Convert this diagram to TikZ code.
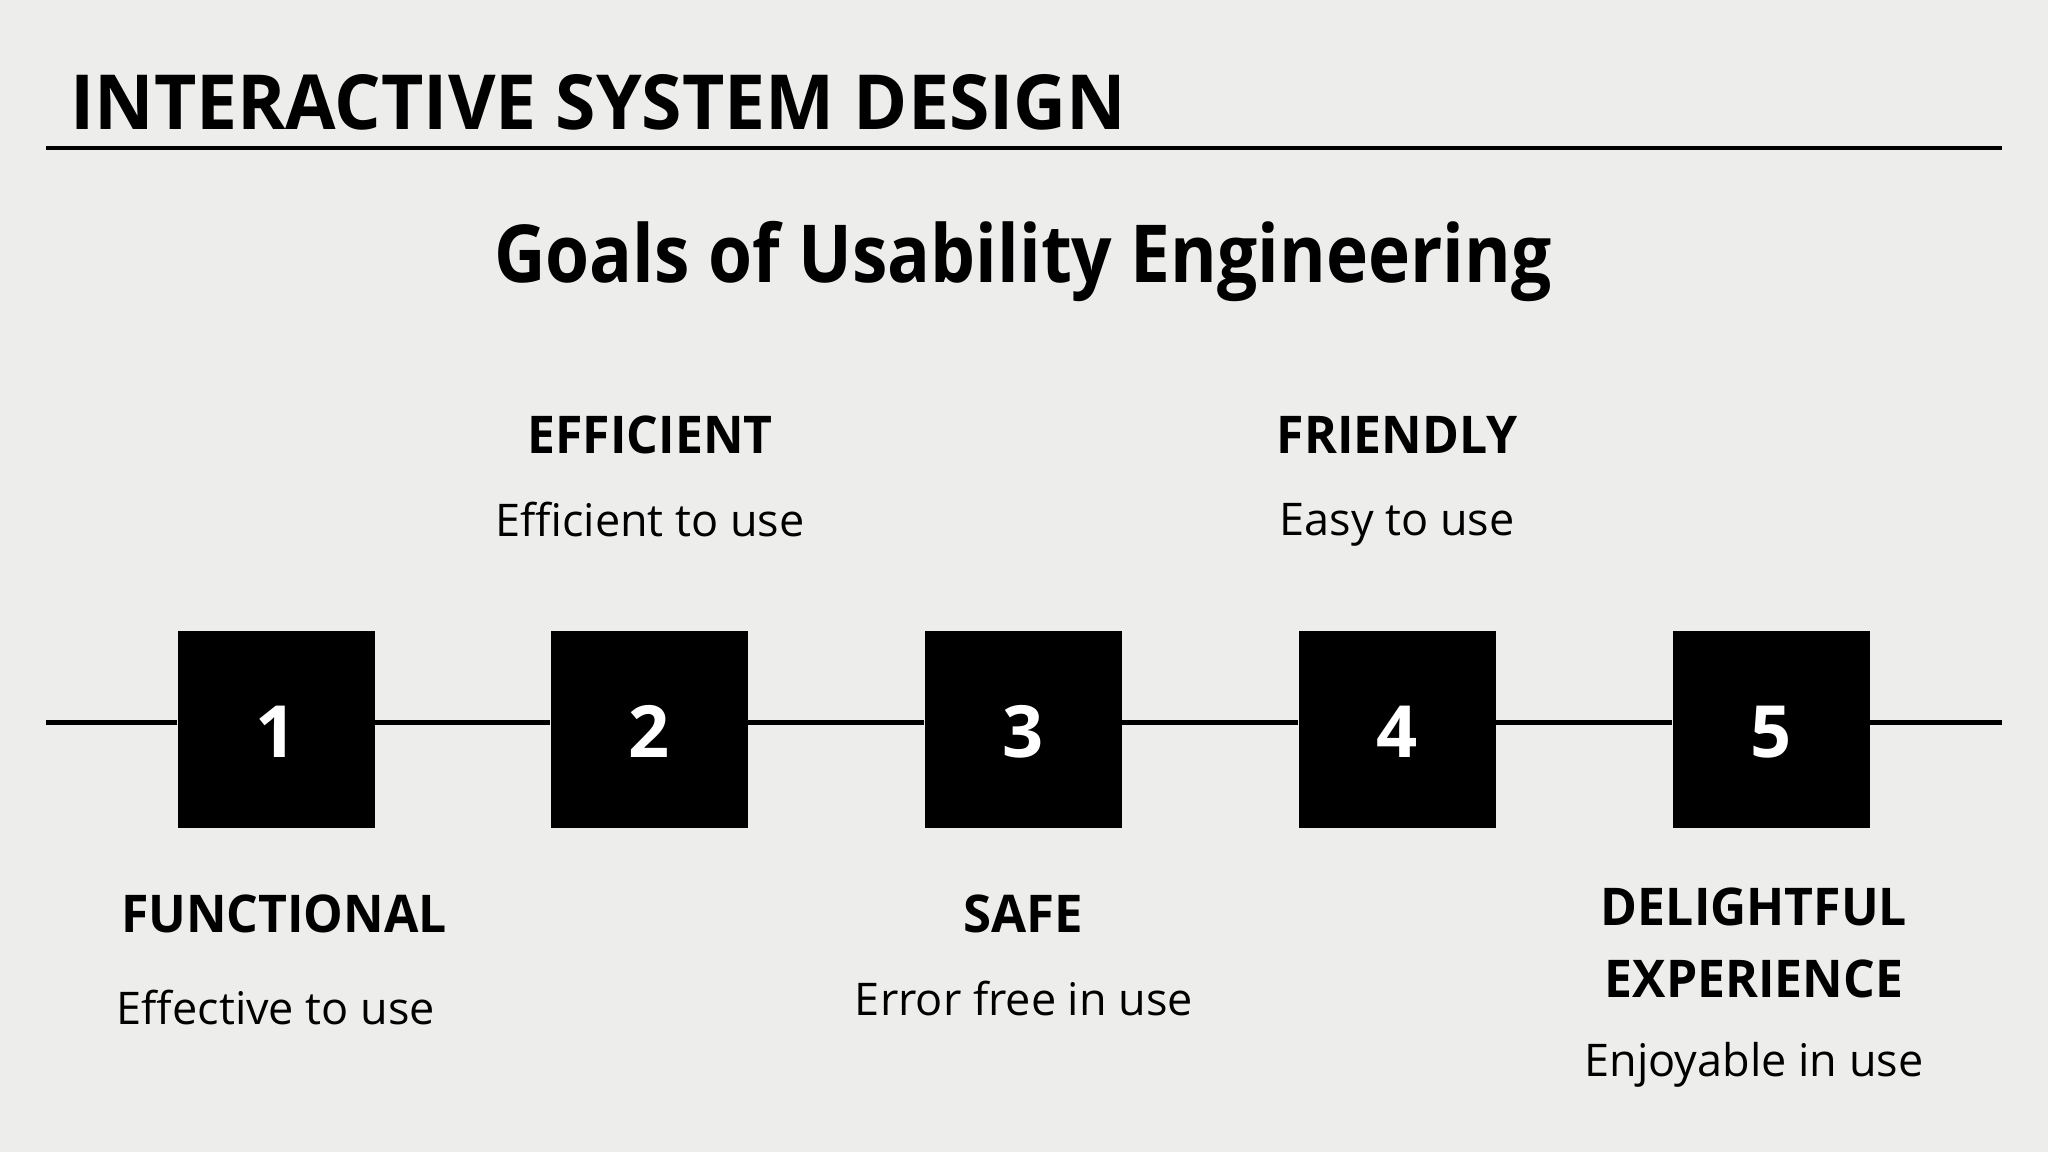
\documentclass[tikz,border=0pt]{standalone}
\usepackage{graphicx}
\usepackage{fontspec}
\setmainfont{Open Sans}
\definecolor{bgpaper}{RGB}{237,237,235}
\newcommand{\hsq}[2]{\scalebox{#1}[1]{#2}}
\begin{document}
\begin{tikzpicture}[x=1pt,y=-1pt,
  numbox/.style={fill=black,draw=none,minimum width=197pt,minimum height=197pt,inner sep=0pt},
  numtxt/.style={text=white,font=\fontsize{72}{80}\selectfont\bfseries,anchor=base,inner sep=0pt},
  head/.style={font=\fontsize{52}{60}\selectfont\bfseries,anchor=base,inner sep=0pt},
  sub/.style={font=\fontsize{45}{52}\selectfont,anchor=base,inner sep=0pt},
  rule/.style={line width=4pt},
  tline/.style={line width=5pt}]
\fill[bgpaper] (0,0) rectangle (2048,1152);
\useasboundingbox (0,0) rectangle (2048,1152);
% title
\node[font=\fontsize{76}{86}\selectfont\bfseries,anchor=base west,inner sep=0pt] (title) at (70,129) {\hsq{0.964}{INTERACTIVE SYSTEM DESIGN}};
\coordinate (rl) at (46,148);
\coordinate (rr) at (2002,148);
\draw[rule] (rl) -- (rr);
\node[font=\fontsize{80}{90}\selectfont\bfseries,anchor=base,inner sep=0pt] (subtitle) at (1023,282) {\hsq{0.89}{Goals of Usability Engineering}};
% boxes
\node[numbox] (b1) at (276,729) {};
\node[numbox] (b2) at (649,729) {};
\node[numbox] (b3) at (1023,729) {};
\node[numbox] (b4) at (1397,729) {};
\node[numbox] (b5) at (1771,729) {};
\node[numtxt] (n1) at (276,757) {1};
\node[numtxt] (n2) at (649,757) {2};
\node[numtxt] (n3) at (1023,757) {3};
\node[numtxt] (n4) at (1397,757) {4};
\node[numtxt] (n5) at (1771,757) {5};
\coordinate (tl) at (46,722);
\coordinate (tr) at (2002,722);
\draw[tline] (tl) -- (b1.west |- tl);
\draw[tline] (b1.east |- tl) -- (b2.west |- tl);
\draw[tline] (b2.east |- tl) -- (b3.west |- tl);
\draw[tline] (b3.east |- tl) -- (b4.west |- tl);
\draw[tline] (b4.east |- tl) -- (b5.west |- tl);
\draw[tline] (b5.east |- tl) -- (tr);
% labels above
\node[head] (h2) at (650,453) {\hsq{0.96}{EFFICIENT}};
\node[sub] (s2) at (650,536) {Efficient to use};
\node[head] (h4) at (1397,453) {\hsq{0.96}{FRIENDLY}};
\node[sub] (s4) at (1397,535) {Easy to use};
% labels below
\node[head] (h1) at (284,932) {\hsq{0.96}{FUNCTIONAL}};
\node[sub] (s1) at (276,1024) {Effective to use};
\node[head] (h3) at (1023,932) {\hsq{0.98}{SAFE}};
\node[sub] (s3) at (1024,1015) {Error free in use};
\node[head] (h5a) at (1754,925) {\hsq{0.96}{DELIGHTFUL}};
\node[head] (h5b) at (1754,997) {\hsq{0.96}{EXPERIENCE}};
\node[sub] (s5) at (1754,1076) {Enjoyable in use};
\end{tikzpicture}
\end{document}
